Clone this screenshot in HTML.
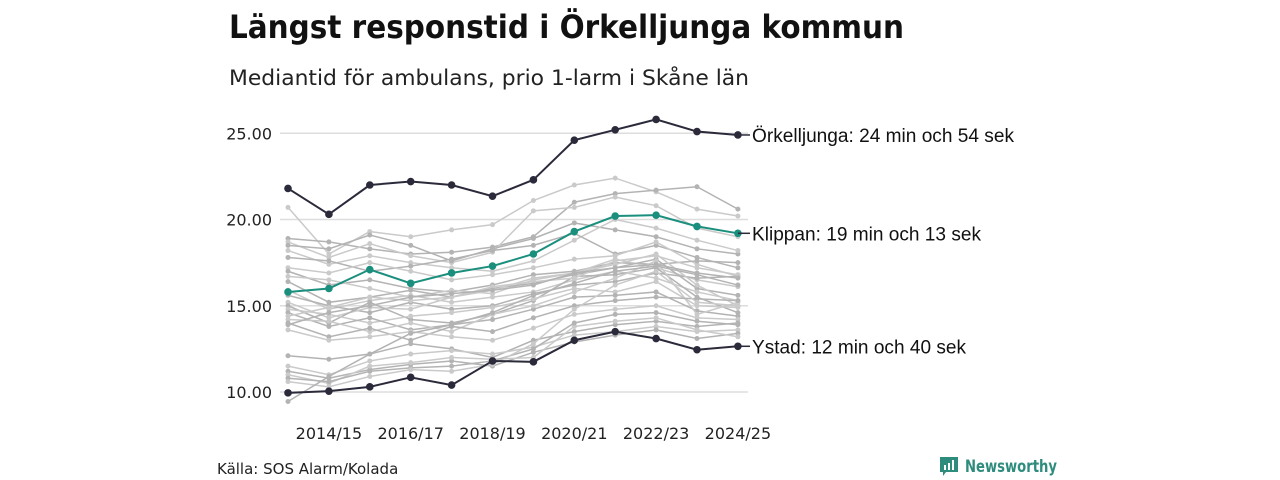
<!DOCTYPE html>
<html><head><meta charset="utf-8"><style>
body{margin:0;background:#fff;font-family:"Liberation Sans",sans-serif;}
#wrap{position:relative;width:1280px;height:480px;overflow:hidden;}
</style></head><body><div id="wrap">
<svg id="chart" width="1280" height="480"></svg>
</div>
<script>
const categories=["2013/14","2014/15","2015/16","2016/17","2017/18","2018/19","2019/20","2020/21","2021/22","2022/23","2023/24","2024/25"];
const tickLabels=["2014/15","2016/17","2018/19","2020/21","2022/23","2024/25"];
const yTicks=[10,15,20,25];
const orkelljunga=[21.8,20.3,22.0,22.2,22.0,21.35,22.3,24.6,25.2,25.8,25.1,24.9];
const klippan=[15.8,16.0,17.1,16.3,16.9,17.3,18.0,19.3,20.2,20.25,19.6,19.2];
const ystad=[9.95,10.05,10.3,10.85,10.4,11.8,11.75,13.0,13.5,13.1,12.45,12.65];
const others=[
[20.7,18.0,19.3,19.0,19.4,19.7,21.1,22.0,22.4,21.6,20.6,20.2],
[18.9,18.7,18.3,18.0,18.1,18.4,19.0,21.0,21.5,21.7,21.9,20.6],
[18.7,17.8,18.6,17.9,17.5,18.1,20.5,20.7,21.3,20.8,19.5,19.0],
[18.5,18.3,19.1,18.5,17.6,18.3,18.9,19.8,19.4,19.0,18.3,18.0],
[18.2,17.4,17.9,17.5,17.2,17.0,17.6,18.8,20.0,19.5,18.8,18.2],
[17.8,17.6,17.0,17.3,17.7,18.2,18.5,19.2,18.0,18.5,17.8,17.2],
[17.2,16.9,17.5,17.0,16.5,16.8,17.2,17.7,17.9,18.7,17.4,16.7],
[17.0,16.2,16.5,16.0,15.8,16.2,16.8,17.0,17.5,17.4,17.6,17.5],
[16.7,16.5,16.0,15.5,15.9,15.7,16.5,16.9,17.7,17.2,16.5,16.1],
[16.4,15.2,15.5,15.9,15.5,16.0,16.3,16.8,17.2,17.7,16.0,15.6],
[15.9,14.8,15.3,15.6,15.2,15.5,15.8,16.5,17.0,16.6,15.8,15.3],
[15.6,15.0,14.6,15.2,14.8,15.0,15.7,16.2,16.4,16.9,16.6,16.7],
[15.2,14.3,14.9,14.8,15.5,15.9,16.6,16.9,17.4,18.0,16.2,15.0],
[15.0,14.0,15.2,14.2,14.0,14.5,15.3,16.7,16.8,17.2,15.5,14.6],
[14.8,14.5,14.0,14.4,14.6,14.9,15.4,16.0,15.8,16.4,15.0,14.9],
[14.6,13.8,14.3,13.6,13.9,14.2,14.8,15.5,15.6,15.8,14.7,14.4],
[14.2,14.1,13.5,14.0,13.5,14.5,15.0,15.8,16.6,17.6,14.5,15.2],
[14.0,13.2,13.7,13.0,13.8,13.5,14.3,15.0,15.3,15.5,15.4,15.3],
[13.6,13.0,13.2,13.5,13.2,13.0,13.7,14.5,14.8,15.0,14.3,14.2],
[12.1,11.9,12.2,12.8,12.5,12.0,13.0,13.5,13.9,14.1,13.8,14.0],
[11.5,11.0,11.8,12.2,12.4,12.2,12.6,13.3,13.5,13.8,13.5,13.6],
[11.2,10.8,11.3,11.6,11.8,11.5,12.3,12.9,13.3,13.6,13.1,13.4],
[11.0,10.5,11.5,11.7,12.0,11.9,12.0,13.8,14.1,14.3,13.6,13.2],
[10.8,10.6,11.2,11.4,11.5,11.8,12.5,14.0,14.5,14.6,14.1,13.9],
[10.6,10.3,10.9,11.3,11.2,11.6,12.8,14.8,16.2,17.0,15.2,15.0],
[9.45,10.9,12.2,13.4,13.9,14.6,15.6,16.3,17.0,17.3,16.8,16.2],
[14.4,14.9,15.5,15.3,15.5,16.1,16.4,16.6,17.6,17.9,17.2,16.8],
[13.9,14.6,15.0,15.5,15.7,15.9,16.2,16.9,17.2,17.4,16.9,16.6]
];
const svg=document.getElementById('chart');const NS="http://www.w3.org/2000/svg";
const X0=288,DX=40.9;const x=i=>X0+i*DX;const y=v=>392-(v-10)*17.25;
function el(t,a,p){const e=document.createElementNS(NS,t);for(const k in a)e.setAttribute(k,a[k]);(p||svg).appendChild(e);return e;}
function txt(s,a){const e=el('text',a);e.textContent=s;return e;}
let t=txt("Längst responstid i Örkelljunga kommun",{x:229,y:38,'font-size':32,'font-weight':'bold',fill:'#111','font-family':'DejaVu Sans, sans-serif',textLength:675,lengthAdjust:'spacingAndGlyphs'});

t=txt("Mediantid för ambulans, prio 1-larm i Skåne län",{x:229,y:85,'font-size':21,fill:'#222','font-family':'DejaVu Sans, sans-serif',textLength:520,lengthAdjust:'spacingAndGlyphs'});

yTicks.forEach(v=>{const g=el('line',{x1:280,x2:748,y1:y(v),y2:y(v),stroke:'#ddd','stroke-width':1.5});

const l=txt(v.toFixed(2),{x:272,y:y(v)+6,'text-anchor':'end','font-size':16,fill:'#222','font-family':'DejaVu Sans, sans-serif'});
});
tickLabels.forEach(s=>{const i=categories.indexOf(s);const l=txt(s,{x:x(i),y:439,'text-anchor':'middle','font-size':16,fill:'#222','font-family':'DejaVu Sans, sans-serif'});
});
function series(vals,color,w,r,name){const g=el('g',{});
el('polyline',{points:vals.map((v,i)=>x(i)+','+y(v)).join(' '),fill:'none',stroke:color,'stroke-width':w},g);
vals.forEach((v,i)=>{const c=el('circle',{cx:x(i),cy:y(v),r:r,fill:color},g);});}
others.forEach((s,k)=>series(s,k%2?'#b3b3b3':'#cacaca',1.5,2.5,'series-other'));
series(orkelljunga,'#2b2a3a',2,3.8,'series-orkelljunga');
series(ystad,'#2b2a3a',2,3.8,'series-ystad');
series(klippan,'#1b8f7e',2,3.8,'series-klippan');
[["Örkelljunga: 24 min och 54 sek",orkelljunga,262],["Klippan: 19 min och 13 sek",klippan,229],["Ystad: 12 min och 40 sek",ystad,214]].forEach(([s,v,w])=>{
el('line',{x1:x(11),x2:750,y1:y(v[11]),y2:y(v[11]),stroke:'#2b2a3a','stroke-width':1.5});
const l=txt(s,{x:752,y:y(v[11])+7,'font-size':19,fill:'#111',textLength:w,lengthAdjust:'spacingAndGlyphs'});});
t=txt("Källa: SOS Alarm/Kolada",{x:217,y:474,'font-size':15,fill:'#222','font-family':'DejaVu Sans, sans-serif'});

const lg=el('g',{});
el('path',{d:'M940 457h18v15h-12l-3 4v-4h-3z',fill:'#2e8c7d'},lg);
el('rect',{x:944,y:465,width:2,height:5,fill:'#fff'},lg);el('rect',{x:948,y:463,width:2,height:7,fill:'#fff'},lg);el('rect',{x:952,y:460,width:2,height:10,fill:'#fff'},lg);
const lt=el('text',{x:965,y:472,'font-size':17,'font-weight':'bold',fill:'#2e8c7d','font-family':'DejaVu Sans, sans-serif',textLength:92,lengthAdjust:'spacingAndGlyphs'},lg);lt.textContent="Newsworthy";
</script></body></html>
